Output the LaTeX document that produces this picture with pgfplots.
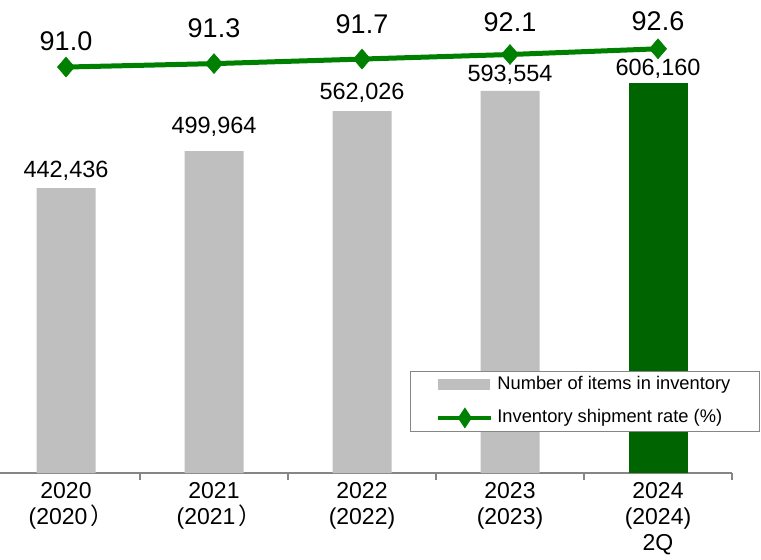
\documentclass[border=0pt]{standalone}
\usepackage{pgfplots}
\pgfplotsset{compat=1.18}
\usepackage{pgfplotstable}
\usepackage{fontspec}
\setmainfont{Liberation Sans}
\newfontfamily\cjk{Noto Sans CJK JP}
\definecolor{barGray}{RGB}{191,191,191}
\definecolor{barGreen}{RGB}{0,100,0}
\definecolor{lineGreen}{RGB}{0,128,0}
\definecolor{axisGray}{RGB}{134,134,134}
\newcommand{\fwp}{\kern3pt{\cjk ）}\kern-10pt}

\pgfplotstableread{
x y s
0 442436 11
1 499964 18
2 562026 12
3 593554 9
}\bardata
\pgfplotstableread{
x y s
4 606160 7
}\bardatab
\pgfplotstableread{
x y s
0 91.0 17
1 91.3 26
2 91.7 26
3 92.1 23
4 92.6 18
}\linedata

\begin{document}
\begin{tikzpicture}
\path[use as bounding box] (0pt,-87pt) rectangle (761pt,473pt);
\begin{axis}[
  width=732pt, height=473pt, scale only axis,
  xmin=-0.446, xmax=4.5, ymin=0, ymax=734500,
  axis x line*=bottom, axis y line=none,
  x axis line style={draw=axisGray, line width=1.6pt},
  xtick={0,1,2,3,4},
  xticklabels={{2020\\(2020\fwp},{2021\\(2021\fwp},{2022\\(2022)},{2023\\(2023)},{2024\\(2024)\\2Q}},
  major tick length=0pt,
  minor xtick={0.5,1.5,2.5,3.5,4.5},
  minor x tick style={draw=axisGray, line width=1.2pt},
  minor tick length=7pt,
  xtick align=outside,
  xticklabel style={align=center, font=\fontsize{23}{26}\selectfont, text=black, inner sep=0pt, yshift=-9pt},
  ybar, bar width=59pt, bar shift=0pt,
  clip=false,
  nodes near coords={\pgfmathprintnumber[fixed,precision=0,1000 sep={,},assume math mode=true]{\pgfplotspointmeta}},
  visualization depends on={\thisrow{s}\as\myshift},
  every node near coord/.append style={anchor=base, inner sep=0pt, yshift=\myshift pt, font=\fontsize{23.5}{28}\selectfont, text=black},
]
\addplot[fill=barGray, draw=none] table[x=x,y=y] {\bardata};
\addplot[fill=barGreen, draw=none] table[x=x,y=y] {\bardatab};
\end{axis}
\begin{axis}[
  width=732pt, height=473pt, scale only axis,
  xmin=-0.446, xmax=4.5, ymin=55.4, ymax=96.88,
  hide axis, clip=false,
  legend cell align=left,
  legend style={at={(1.038,0.0867)}, anchor=south east, draw=axisGray, line width=1pt,
    font=\fontsize{18.3}{21}\selectfont, inner xsep=26pt, inner ysep=2pt, row sep=10pt, column sep=1pt,
    nodes={inner sep=3pt, text height=13pt, text depth=4pt}},
]
\addlegendimage{legend image code/.code={\fill[barGray] (0pt,-5pt) rectangle (51pt,5pt);}}
\addlegendentry{Number of items in inventory}
\addplot[lineGreen, line width=5pt, mark=diamond*, mark size=10pt,
  mark options={line width=0.5pt, solid, xscale=1.15},
  nodes near coords={\pgfmathprintnumber[fixed,zerofill,precision=1,assume math mode=true]{\pgfplotspointmeta}},
  visualization depends on={\thisrow{s}\as\myshift},
  every node near coord/.append style={anchor=base, inner sep=0pt, yshift=\myshift pt, font=\fontsize{27}{32}\selectfont, text=black},
  legend image code/.code={\draw[lineGreen, line width=4pt] (0pt,0pt) -- (53pt,0pt);
     \fill[lineGreen] (26.5pt,6pt) -- (30.5pt,0pt) -- (26.5pt,-6pt) -- (22.5pt,0pt) -- cycle;}
] table[x=x,y=y] {\linedata};
\addlegendentry{Inventory shipment rate (\%)}
\end{axis}
\end{tikzpicture}
\end{document}
